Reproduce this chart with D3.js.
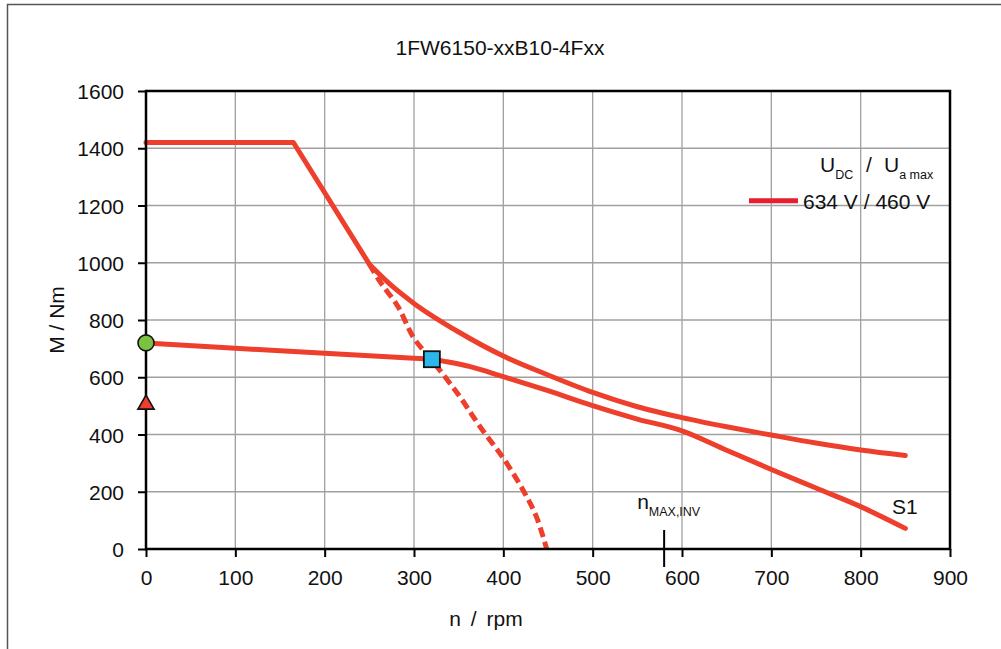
<!DOCTYPE html>
<html>
<head>
<meta charset="utf-8">
<script src="https://cdn.jsdelivr.net/npm/d3@7"></script>
<style>
  html, body { margin: 0; padding: 0; background: #fff; }
  svg { display: block; font-family: "Liberation Sans", Arial, sans-serif; }
</style>
</head>
<body>
<svg id="chart" width="1001" height="649"></svg>
<script>
// ---- data ----
const titleText = "1FW6150-xxB10-4Fxx";
const speedTicks = [0, 100, 200, 300, 400, 500, 600, 700, 800, 900];
const torqueTicks = [0, 200, 400, 600, 800, 1000, 1200, 1400, 1600];

// maximum torque curve
const maxN = [0, 165, 250, 275, 300, 350, 400, 450, 500, 550, 600, 650, 700, 750, 800, 850];
const maxM = [1420, 1420, 995, 920, 858, 758, 674, 608, 547, 497, 459, 427, 398, 370, 346, 327];

// S1 curve
const s1N = [0, 100, 200, 300, 320, 337, 363, 400, 450, 500, 550, 600, 650, 700, 750, 800, 850];
const s1M = [720, 701, 684, 666, 663, 654, 637, 602, 553, 501, 454, 413, 345, 278, 213, 148, 72];

// dashed curve (without field weakening)
const dashN = [250, 262, 282, 300, 320, 350, 374, 400, 422, 437, 448.5];
const dashM = [995, 934, 847, 736, 660, 538, 427, 317, 206, 113, 0];

// markers
const circleN = [0], circleM = [720];
const triangleN = [0], triangleM = [505];
const squareN = [320], squareM = [663];
const nMaxInv = 580;

const legendLabel = "634 V / 460 V";

// ---- drawing ----
const svg = d3.select("#chart");
const M = { left: 146, right: 950, top: 91, bottom: 549 };
const x = d3.scaleLinear().domain([0, 900]).range([M.left, M.right]);
const y = d3.scaleLinear().domain([0, 1600]).range([M.bottom, M.top]);

const red = "#ee3f2c";
const FS = 21;

// outer frame
svg.append("rect").attr("x", 7.5).attr("y", 4.5).attr("width", 1010).attr("height", 660)
  .attr("fill", "none").attr("stroke", "#555").attr("stroke-width", 1.5);

// title
svg.append("text").attr("x", 500).attr("y", 55).attr("text-anchor", "middle")
  .attr("font-size", FS).attr("fill", "#111").text(titleText);

// grid
const g = svg.append("g");
g.selectAll(".vg").data(speedTicks.slice(1, -1)).join("line")
  .attr("x1", d => x(d)).attr("x2", d => x(d)).attr("y1", M.top).attr("y2", M.bottom)
  .attr("stroke", "#a0a0a0").attr("stroke-width", 1.3);
g.selectAll(".hg").data(torqueTicks.slice(1, -1)).join("line")
  .attr("y1", d => y(d)).attr("y2", d => y(d)).attr("x1", M.left).attr("x2", M.right)
  .attr("stroke", "#a0a0a0").attr("stroke-width", 1.3);

// axes
const xAxis = d3.axisBottom(x).tickValues(speedTicks).tickSize(8).tickPadding(13).tickFormat(d3.format("d"));
const yAxis = d3.axisLeft(y).tickValues(torqueTicks).tickSize(8).tickPadding(14).tickFormat(d3.format("d"));
const gx = svg.append("g").attr("transform", `translate(0,${M.bottom})`).call(xAxis);
const gy = svg.append("g").attr("transform", `translate(${M.left},0)`).call(yAxis);
[gx, gy].forEach(a => {
  a.select(".domain").remove();
  a.selectAll(".tick line").attr("stroke", "#000").attr("stroke-width", 2);
  a.selectAll(".tick text").attr("font-size", FS).attr("fill", "#111")
    .attr("font-family", "'Liberation Sans', Arial, sans-serif");
});
gy.selectAll(".tick text").attr("dy", "0.36em");

// curves
const pts = (ns, ms) => ns.map((n, i) => [n, ms[i]]);
const lineLin = d3.line().x(d => x(d[0])).y(d => y(d[1]));
const lineSmooth = d3.line().x(d => x(d[0])).y(d => y(d[1])).curve(d3.curveMonotoneX);
const lineCR = d3.line().x(d => x(d[0])).y(d => y(d[1])).curve(d3.curveCatmullRom.alpha(0.5));

const maxPts = pts(maxN, maxM);
svg.append("path").attr("d", lineLin(maxPts.slice(0, 3)) + lineSmooth(maxPts.slice(2)).replace(/^M/, "L"))
  .attr("fill", "none").attr("stroke", red).attr("stroke-width", 5)
  .attr("stroke-linejoin", "round").attr("stroke-linecap", "round");

svg.append("path").attr("d", lineSmooth(pts(s1N, s1M)))
  .attr("fill", "none").attr("stroke", red).attr("stroke-width", 5)
  .attr("stroke-linejoin", "round").attr("stroke-linecap", "round");

svg.append("path").attr("d", lineCR(pts(dashN, dashM)))
  .attr("fill", "none").attr("stroke", red).attr("stroke-width", 5)
  .attr("stroke-dasharray", "10,5");

// plot frame
svg.append("rect").attr("x", M.left).attr("y", M.top)
  .attr("width", M.right - M.left).attr("height", M.bottom - M.top)
  .attr("fill", "none").attr("stroke", "#000").attr("stroke-width", 2.5);

// n_MAX,INV marker
svg.append("line").attr("x1", x(nMaxInv)).attr("x2", x(nMaxInv)).attr("y1", 530).attr("y2", 567)
  .attr("stroke", "#000").attr("stroke-width", 2);
const nt = svg.append("text").attr("x", x(nMaxInv) - 27).attr("y", 509).attr("font-size", FS).attr("fill", "#111");
nt.append("tspan").text("n");
nt.append("tspan").attr("dy", 7).attr("font-size", 12.5).text("MAX,INV");

// S1 label
svg.append("text").attr("x", 892).attr("y", 514).attr("font-size", FS).attr("fill", "#111").text("S1");

// markers
svg.selectAll(".circ").data(pts(circleN, circleM)).join("circle")
  .attr("cx", d => x(d[0])).attr("cy", d => y(d[1])).attr("r", 8)
  .attr("fill", "#7cc242").attr("stroke", "#111").attr("stroke-width", 1.6);
svg.selectAll(".tri").data(pts(triangleN, triangleM)).join("path")
  .attr("transform", d => `translate(${x(d[0])},${y(d[1])})`)
  .attr("d", d3.symbol(d3.symbolTriangle, 113))
  .attr("fill", red).attr("stroke", "#111").attr("stroke-width", 1.6);
svg.selectAll(".sq").data(pts(squareN, squareM)).join("rect")
  .attr("x", d => x(d[0]) - 8).attr("y", d => y(d[1]) - 8).attr("width", 16).attr("height", 16)
  .attr("fill", "#2bb7ea").attr("stroke", "#111").attr("stroke-width", 1.8);

// axis titles
svg.append("text").attr("transform", `translate(64,${(M.top + M.bottom) / 2}) rotate(-90)`)
  .attr("text-anchor", "middle").attr("font-size", FS).attr("fill", "#111").text("M / Nm");
svg.append("text").attr("x", 486).attr("y", 626).attr("text-anchor", "middle")
  .attr("font-size", FS).attr("fill", "#111").attr("word-spacing", 4).text("n / rpm");

// legend
const lh = svg.append("text").attr("x", 820).attr("y", 172).attr("font-size", FS).attr("fill", "#111");
lh.append("tspan").text("U");
lh.append("tspan").attr("dy", 7).attr("font-size", 12.5).text("DC");
lh.append("tspan").attr("dy", -7).attr("x", 866).text("/");
lh.append("tspan").attr("x", 884).text("U");
lh.append("tspan").attr("dy", 7).attr("font-size", 12.5).text("a max");

svg.append("line").attr("x1", 749).attr("x2", 798).attr("y1", 200.7).attr("y2", 200.7)
  .attr("stroke", "#e61e30").attr("stroke-width", 5);
svg.append("text").attr("x", 803).attr("y", 209).attr("font-size", FS).attr("fill", "#111").text(legendLabel);
</script>
</body>
</html>
